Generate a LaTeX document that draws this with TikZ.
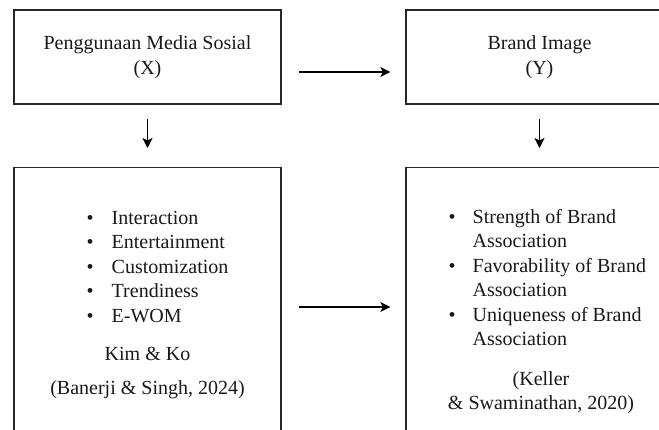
\documentclass[tikz,border=0pt]{standalone}
\usepackage{fontspec}
\setmainfont{Liberation Serif}
\newfontfamily\timesfont{Liberation Serif}
\usetikzlibrary{arrows.meta,positioning}
\begin{document}
\begin{tikzpicture}[x=1pt, y=-1pt,
    font=\timesfont\fontsize{20}{24.5}\selectfont, text=black!90,
    box/.style={draw=black!85, line width=1.3pt, minimum width=267pt,
      align=center, inner sep=0pt},
    arr/.style={-{Stealth[length=10pt, width=10pt, inset=2.5pt]}, line width=1.6pt}]
  \useasboundingbox (0,0) rectangle (659,429);
  \clip (0,0) rectangle (659,429);
  \fill [white] (0,0) rectangle (659,429);

  % variabel
  \node [box, minimum height=94pt] (medsos) at (147.5,57) {Penggunaan Media Sosial\\(X)};
  \node [box, minimum height=94pt] (brand) at (539.5,57) {Brand Image\\(Y)};

  % dimensi
  \node [box, minimum height=300pt, anchor=north] (medsosdim) at (147.5,167) {};
  \node [box, minimum height=300pt, anchor=north] (branddim) at (539.5,167) {};

  \node [anchor=north west, inner sep=0pt] (medsoslist) at (86.5,206.85) {%
    \begin{tabular}{@{}l@{\hspace{18pt}}l@{}}
      \textbullet & Interaction\\
      \textbullet & Entertainment\\
      \textbullet & Customization\\
      \textbullet & Trendiness\\
      \textbullet & E-WOM
    \end{tabular}};
  \node [anchor=base, inner sep=0pt] (kimko) at (147.5,360) {Kim \& Ko};
  \node [anchor=base, inner sep=0pt] (banerji) at (147.5,394) {(Banerji \& Singh, 2024)};

  \node [anchor=north west, inner sep=0pt] (brandlist) at (448.5,205.85) {%
    \begin{tabular}{@{}l@{\hspace{17pt}}l@{}}
      \textbullet & Strength of Brand\\
                  & Association\\
      \textbullet & Favorability of Brand\\
                  & Association\\
      \textbullet & Uniqueness of Brand\\
                  & Association
    \end{tabular}};
  \node [anchor=north, inner sep=0pt] (keller) at (541,367.85) {%
    \begin{tabular}{@{}c@{}}
      (Keller\\
      \& Swaminathan, 2020)
    \end{tabular}};

  % panah
  \draw [arr, shorten <=17pt, shorten >=15pt]
    ([yshift=-15pt]medsos.east) -- ([yshift=-15pt]brand.west);
  \draw [arr, shorten <=17pt, shorten >=15pt]
    ([yshift=-140pt]medsosdim.north east) -- ([yshift=-140pt]branddim.north west);
  \draw [arr, shorten <=14pt, shorten >=19pt] (medsos) -- (medsosdim);
  \draw [arr, shorten <=14pt, shorten >=19pt] (brand) -- (branddim);
\end{tikzpicture}
\end{document}
